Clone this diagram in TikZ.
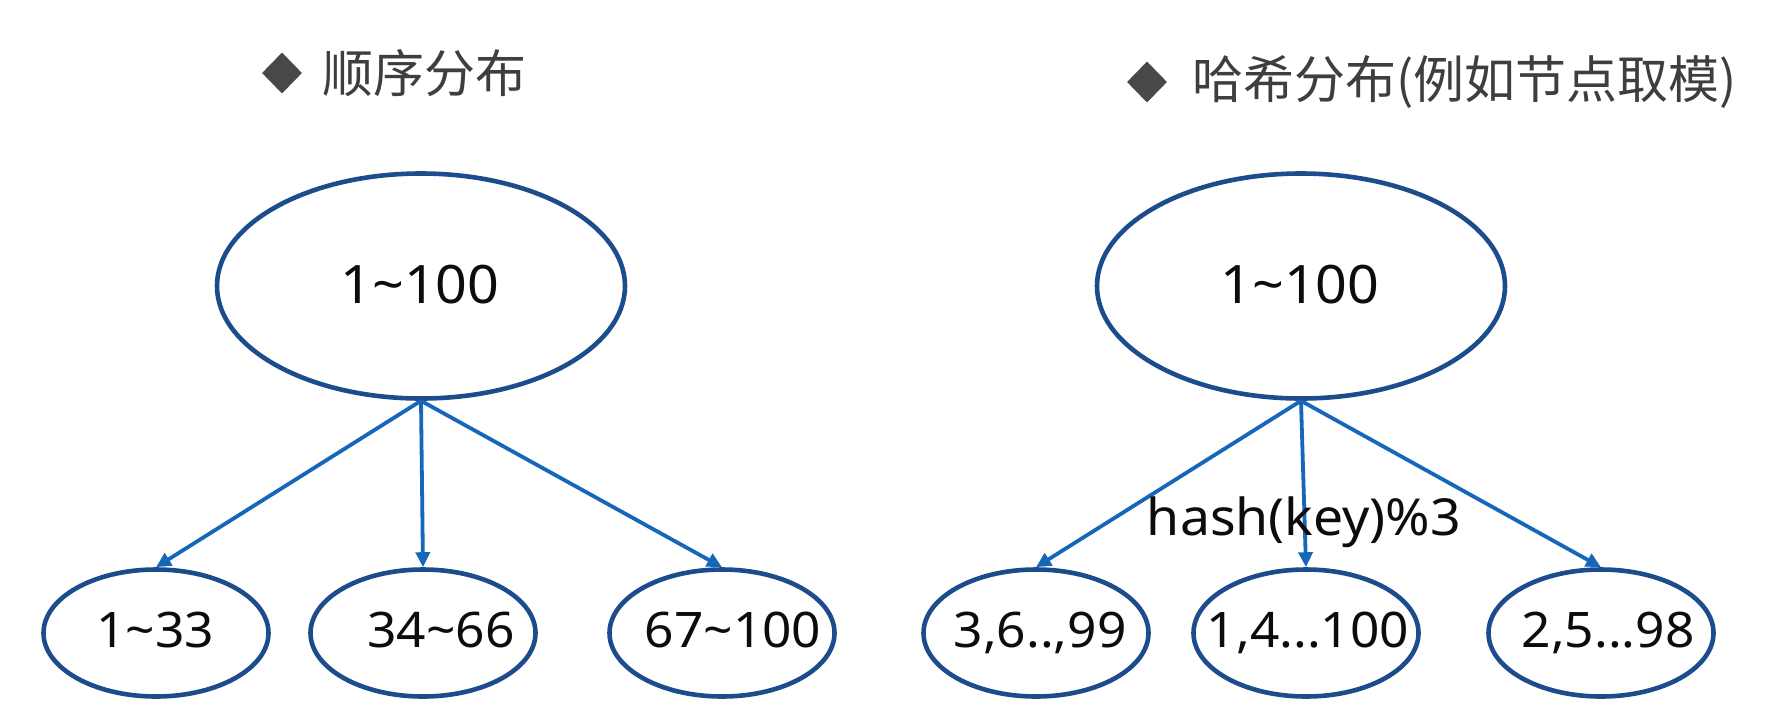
\documentclass[tikz,border=0pt]{standalone}
\usepackage{fontspec}
\setmainfont{Noto Sans CJK SC}
\newfontfamily\latinf[FakeStretch=1.05]{Noto Sans}
\usetikzlibrary{shapes.geometric,arrows.meta}
\definecolor{ellcol}{RGB}{28,76,140}
\definecolor{arrcol}{RGB}{22,102,186}
\definecolor{titcol}{RGB}{62,62,62}
\definecolor{diacol}{RGB}{72,72,72}
\definecolor{txtcol}{RGB}{12,12,12}
\tikzset{
  bigell/.style={ellipse, draw=ellcol, line width=4.6pt, minimum width=408pt, minimum height=225pt, inner sep=0pt},
  smallell/.style={ellipse, draw=ellcol, line width=4.6pt, minimum width=225pt, minimum height=127pt, inner sep=0pt},
  bigtxt/.style={anchor=base, inner sep=0pt, text=txtcol, font=\latinf\fontsize{53}{60}\selectfont},
  smalltxt/.style={anchor=base, inner sep=0pt, text=txtcol, font=\latinf\fontsize{49}{58}\selectfont},
  hashtxt/.style={anchor=base, inner sep=0pt, text=txtcol, font=\latinf\fontsize{51}{58}\selectfont},
  arr/.style={draw=arrcol, line width=3.8pt, -{Triangle[length=15pt,width=14pt]}},
  dia/.style={diamond, fill=diacol, minimum width=40pt, minimum height=41pt, inner sep=0pt},
  title/.style={anchor=west, inner sep=0pt, text=titcol, font=\fontsize{51}{60}\selectfont}
}
\begin{document}
\begin{tikzpicture}[x=1pt,y=-1pt]
\useasboundingbox[fill=white] (0,0) rectangle (1769,713);
% titles
\node[dia] (d1) at (282,73) {};
\node[title] (t1) at (322,73) {顺序分布};
\node[dia] (d2) at (1147,82) {};
\node[title] (t2) at (1192,82) {哈希分布(例如节点取模)};
% left tree
\node[bigell] (L) at (421,286) {};
\node[smallell] (L1) at (156,633) {};
\node[smallell] (L2) at (423,633) {};
\node[smallell] (L3) at (722,633) {};
\node[bigtxt] (Lt) at (420,303) {1\textasciitilde100};
\node[smalltxt] (L1t) at (155,647) {1\textasciitilde33};
\node[smalltxt] (L2t) at (441,647) {34\textasciitilde66};
\node[smalltxt] (L3t) at (733,647) {67\textasciitilde100};
\draw[arr] (L.south) -- (L1.north);
\draw[arr] (L.south) -- (L2.north);
\draw[arr] (L.south) -- (L3.north);
% right tree
\node[bigell] (R) at (1301,286) {};
\node[smallell] (R1) at (1036,633) {};
\node[smallell] (R2) at (1306,633) {};
\node[smallell] (R3) at (1601,633) {};
\node[bigtxt] (Rt) at (1300,303) {1\textasciitilde100};
\node[smalltxt] (R1t) at (1040,647) {3,6..,99};
\node[smalltxt] (R2t) at (1308,647) {1,4...100};
\node[smalltxt] (R3t) at (1608,647) {2,5...98};
\draw[arr] (R.south) -- (R1.north);
\draw[arr] (R.south) -- (R2.north);
\draw[arr] (R.south) -- (R3.north);
\node[hashtxt] (H) at (1304,535) {hash(key)\%3};
\end{tikzpicture}
\end{document}
